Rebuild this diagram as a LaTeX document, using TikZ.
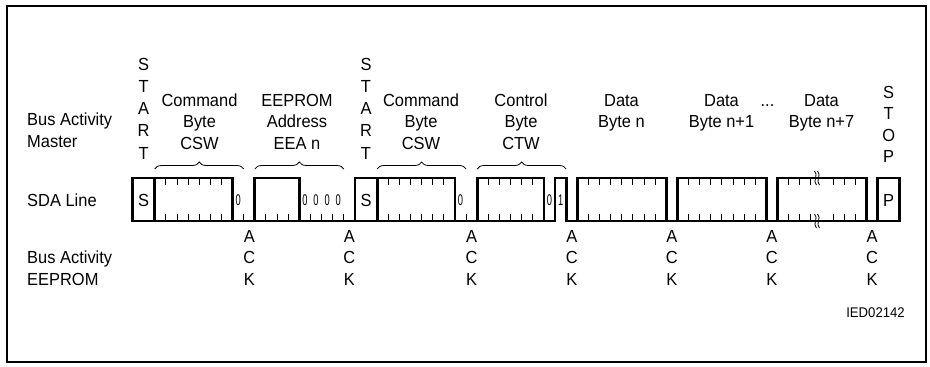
\documentclass[tikz,border=0pt]{standalone}
\usepackage{fontspec}
\setmainfont[FakeStretch=0.94]{Liberation Sans}
\newfontfamily\narrowdigits[FakeStretch=0.6]{Liberation Sans}
\usetikzlibrary{decorations.pathreplacing}
\begin{document}
\begin{tikzpicture}[x=1pt,y=-1pt,
  lbl/.style={font=\fontsize{17.5}{20}\selectfont, inner sep=0pt, anchor=base},
  lblw/.style={lbl, anchor=base west},
  wave/.style={line width=2.8pt, line join=miter},
  tickline/.style={line width=0.9pt},
  brc/.style={decorate, decoration={brace, amplitude=7pt}, line width=0.8pt},
  digit/.style={font=\narrowdigits\fontsize{15.5}{17}\selectfont, inner sep=0pt},
  squig/.style={line width=0.8pt}]
\useasboundingbox (0,0) rectangle (930,367);
\draw[line width=1.2pt] (7,6) rectangle (926,362);
% bit boundaries
\foreach \k in {0,...,69}{
  \coordinate (t\k) at ({132.5+11.12*\k},178);
  \coordinate (u\k) at ({132.5+11.12*\k},221);
  \coordinate (v\k) at ({132.5+11.12*\k},169);
}
% left labels
\node[lblw] (bam1) at (27,125.3) {Bus Activity};
\node[lblw] (bam2) at (27,147.3) {Master};
\node[lblw] (sda) at (27,206.3) {SDA Line};
\node[lblw] (bae1) at (27,263.8) {Bus Activity};
\node[lblw] (bae2) at (27,285.3) {EEPROM};
% START / STOP letters
\foreach \c [count=\i from 0] in {S,T,A,R,T}{
  \node[lbl] (sa\i) at ({132.5+11.12*1},{70.3+22.2*\i}) {\c};
  \node[lbl] (sb\i) at ({132.5+11.12*21},{70.3+22.2*\i}) {\c};
}
\foreach \c [count=\i from 0] in {S,T,O,P}{
  \node[lbl] (so\i) at ({132.5+11.12*68},{98.3+21.5*\i}) {\c};
}
% field titles
\foreach \nm/\x/\a/\b/\c in {f1/199.5/Command/Byte/CSW, f2/297/EEPROM/Address/EEA n, f3/421/Command/Byte/CSW, f4/521/Control/Byte/CTW}{
  \node[lbl] (\nm a) at (\x,106.3) {\a};
  \node[lbl] (\nm b) at (\x,127.8) {\b};
  \node[lbl] (\nm c) at (\x,149.3) {\c};
}
\foreach \nm/\x/\b in {d1/621.5/Byte n, d2/721.5/Byte n+1, d3/821.5/Byte n+7}{
  \node[lbl] (\nm a) at (\x,106.3) {Data};
  \node[lbl] (\nm b) at (\x,127.8) {\b};
}
\node[lbl] (dots) at (767.5,106.3) {...};
% braces
\draw[brc] (v2) -- (v10);
\draw[brc] (v11) -- (v19);
\draw[brc] (v22) -- (v30);
\draw[brc] (v31) -- (v39);
% waveform
\draw[wave, line cap=rect] (u0) -- (u38) -- (t38) -- (t39) -- (u39) -- (u69);
\draw[wave] (t0) rectangle (u9);
\draw[wave] (t2) -- (u2);
\draw[wave] (t11) rectangle (u15);
\draw[wave] (t20) rectangle (u29);
\draw[wave] (t22) -- (u22);
\draw[wave] (t31) rectangle (u37);
\draw[wave] (t40) rectangle (u48);
\draw[wave] (t49) rectangle (u57);
\draw[wave] (t58) rectangle (u66);
\draw[wave] (t67) rectangle (u69);
% ticks
\foreach \a/\b in {3/8,23/28,32/36,41/47,50/56,59/61,63/65}{
  \foreach \k in {\a,...,\b}{
    \draw[tickline] (t\k) -- ++(0,7);
    \draw[tickline] (u\k) -- ++(0,-7);
  }
}
\foreach \k in {10,12,13,14,16,17,18,19,30}{
  \draw[tickline] (u\k) -- ++(0,-7);
}
% break marks
\foreach \yy in {171,214}{
  \draw[squig] (814.5,\yy) .. controls (819,{\yy+4}) and (812,{\yy+10}) .. (816.5,{\yy+14});
  \draw[squig] (817.5,\yy) .. controls (822,{\yy+4}) and (815,{\yy+10}) .. (819.5,{\yy+14});
}
% S and P in boxes
\node[lbl] (s1) at ({132.5+11.12*1},206.3) {S};
\node[lbl] (s2) at ({132.5+11.12*21},206.3) {S};
\node[lbl] (p1) at ({132.5+11.12*68},206.3) {P};
% small digits
\foreach \k/\d [count=\i] in {9/0,15/0,16/0,17/0,18/0,29/0,37/0,38/1}{
  \node[digit] (dg\i) at ({132.5+11.12*(\k+0.5)},200) {\d};
}
% ACK letters
\foreach \k [count=\i] in {10,19,30,39,48,57,66}{
  \node[lbl] (ack\i a) at ({132.5+11.12*(\k+0.5)},242.3) {A};
  \node[lbl] (ack\i c) at ({132.5+11.12*(\k+0.5)},263.8) {C};
  \node[lbl] (ack\i k) at ({132.5+11.12*(\k+0.5)},285.3) {K};
}
\node[font=\fontsize{14}{16}\selectfont, inner sep=0pt, anchor=base east] (ied) at (905,317) {IED02142};
\end{tikzpicture}
\end{document}
